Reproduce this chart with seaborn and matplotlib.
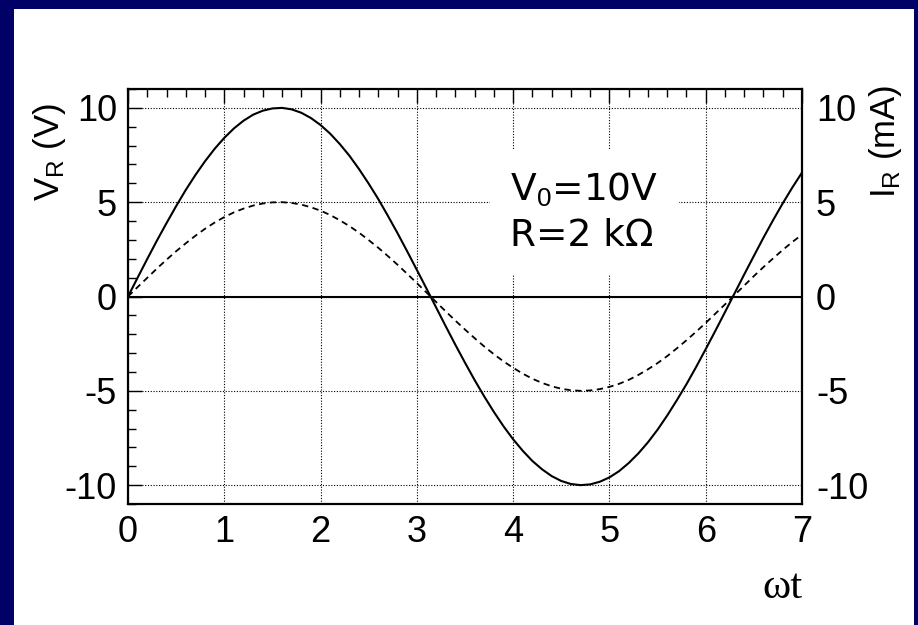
import numpy as np
import pandas as pd
import matplotlib
matplotlib.use("Agg")
import matplotlib.pyplot as plt
from matplotlib.patches import Rectangle
from matplotlib.ticker import MultipleLocator
import seaborn as sns

# Phase angle omega*t (rad) and the voltage / current across the resistor
wt = [0.0, 0.1, 0.2, 0.3, 0.4, 0.5, 0.6, 0.7, 0.8, 0.9,
      1.0, 1.1, 1.2, 1.3, 1.4, 1.5, 1.6, 1.7, 1.8, 1.9,
      2.0, 2.1, 2.2, 2.3, 2.4, 2.5, 2.6, 2.7, 2.8, 2.9,
      3.0, 3.1, 3.2, 3.3, 3.4, 3.5, 3.6, 3.7, 3.8, 3.9,
      4.0, 4.1, 4.2, 4.3, 4.4, 4.5, 4.6, 4.7, 4.8, 4.9,
      5.0, 5.1, 5.2, 5.3, 5.4, 5.5, 5.6, 5.7, 5.8, 5.9,
      6.0, 6.1, 6.2, 6.3, 6.4, 6.5, 6.6, 6.7, 6.8, 6.9, 7.0]
v_r = [0.00, 1.00, 1.99, 2.96, 3.89, 4.79, 5.65, 6.44, 7.17, 7.83,
       8.41, 8.91, 9.32, 9.64, 9.85, 9.97, 10.00, 9.92, 9.74, 9.46,
       9.09, 8.63, 8.08, 7.46, 6.75, 5.98, 5.16, 4.27, 3.35, 2.39,
       1.41, 0.42, -0.58, -1.58, -2.56, -3.51, -4.43, -5.30, -6.12, -6.88,
       -7.57, -8.18, -8.72, -9.16, -9.52, -9.78, -9.94, -10.00, -9.96, -9.82,
       -9.59, -9.26, -8.83, -8.32, -7.73, -7.06, -6.31, -5.50, -4.65, -3.74,
       -2.79, -1.82, -0.83, 0.17, 1.17, 2.15, 3.12, 4.05, 4.94, 5.78, 6.57]
i_r = [0.00, 0.50, 0.99, 1.48, 1.95, 2.40, 2.82, 3.22, 3.59, 3.92,
       4.21, 4.46, 4.66, 4.82, 4.93, 4.99, 5.00, 4.96, 4.87, 4.73,
       4.55, 4.32, 4.04, 3.73, 3.38, 2.99, 2.58, 2.14, 1.68, 1.20,
       0.71, 0.21, -0.29, -0.79, -1.28, -1.75, -2.21, -2.65, -3.06, -3.44,
       -3.78, -4.09, -4.36, -4.58, -4.76, -4.89, -4.97, -5.00, -4.98, -4.91,
       -4.79, -4.63, -4.42, -4.16, -3.86, -3.53, -3.16, -2.75, -2.32, -1.87,
       -1.40, -0.91, -0.42, 0.08, 0.58, 1.08, 1.56, 2.02, 2.47, 2.89, 3.28]

x_ticks = [0, 1, 2, 3, 4, 5, 6, 7]
y_ticks = [-10, -5, 0, 5, 10]
y_ticklabels = ["-10", "-5", "0", "5", "10"]

df = pd.DataFrame({"wt": wt, "V": v_r, "I": i_r})

sns.set_style("white")
plt.rcParams["font.family"] = ["Liberation Sans", "DejaVu Sans"]
plt.rcParams["mathtext.fontset"] = "custom"
plt.rcParams["mathtext.rm"] = "Liberation Sans"
plt.rcParams["mathtext.it"] = "Liberation Sans:italic"
plt.rcParams["axes.unicode_minus"] = False
plt.rcParams["text.color"] = "black"

W, H = 918, 625
fig = plt.figure(figsize=(W / 100, H / 100), dpi=100)
navy = "#000066"
fig.patch.set_facecolor(navy)
# white slide panel inside the navy frame
fig.patches.append(Rectangle((14 / W, 0), (914 - 14) / W, 1 - 9 / H,
                             transform=fig.transFigure, facecolor="white",
                             edgecolor="none", zorder=-5))

x0, x1, y0, y1 = 128, 802, 89, 504
ax = fig.add_axes([x0 / W, 1 - y1 / H, (x1 - x0) / W, (y1 - y0) / H])
ax.set_facecolor("white")

sns.lineplot(data=df, x="wt", y="V", ax=ax, color="black", lw=1.5,
             estimator=None, sort=False, zorder=4)
sns.lineplot(data=df, x="wt", y="I", ax=ax, color="black", lw=1.3,
             estimator=None, sort=False, zorder=4)
ax.lines[-1].set_dashes([3.5, 2.5])
ax.axhline(0, color="black", lw=1.5, zorder=3)

ax.set_xlim(0, 7)
ax.set_ylim(-11, 11)
ax.set_xticks(x_ticks)
ax.set_xticklabels([str(t) for t in x_ticks])
ax.set_yticks(y_ticks)
ax.set_yticklabels(y_ticklabels)
ax.xaxis.set_minor_locator(MultipleLocator(0.2))
ax.yaxis.set_minor_locator(MultipleLocator(1))
ax.grid(True, which="major", color="black", lw=0.8, linestyle=(0, (1, 1.5)))
ax.tick_params(which="both", direction="in", top=True, right=True,
               colors="black", labelsize=26, width=1)
ax.tick_params(which="major", length=10, pad=8)
ax.tick_params(which="minor", length=6)
for s in ax.spines.values():
    s.set_linewidth(1.6)
    s.set_color("black")
ax.set_xlabel("")
ax.set_ylabel("")

ax2 = ax.twinx()
ax2.set_ylim(-11, 11)
ax2.set_yticks(y_ticks)
ax2.set_yticklabels(y_ticklabels)
ax2.tick_params(length=0, labelsize=26, pad=10, colors="black")
ax2.grid(False)
for s in ax2.spines.values():
    s.set_visible(False)

# axis titles
fig.text(49 / W, 1 - 103 / H, r"V$_\mathregular{R}$ (V)", rotation=90,
         ha="center", va="top", fontsize=25, color="black")
fig.text(885 / W, 1 - 85 / H, r"I$_\mathregular{R}$ (mA)", rotation=90,
         ha="center", va="top", fontsize=25, color="black")
fig.text(803 / W, 1 - 598 / H, "ωt", ha="right", va="baseline",
         fontsize=31, family="Liberation Serif", color="black")

# circuit parameters
ax.text(3.97, 6.65, "V$_0$=10V\nR=2 kΩ", ha="left", va="top", color="black",
        fontsize=27, family="DejaVu Sans", linespacing=1.3, zorder=5,
        bbox=dict(facecolor="white", edgecolor="none",
                  boxstyle="square,pad=0.55"))

fig.savefig("out.png", dpi=100, facecolor=fig.get_facecolor())
